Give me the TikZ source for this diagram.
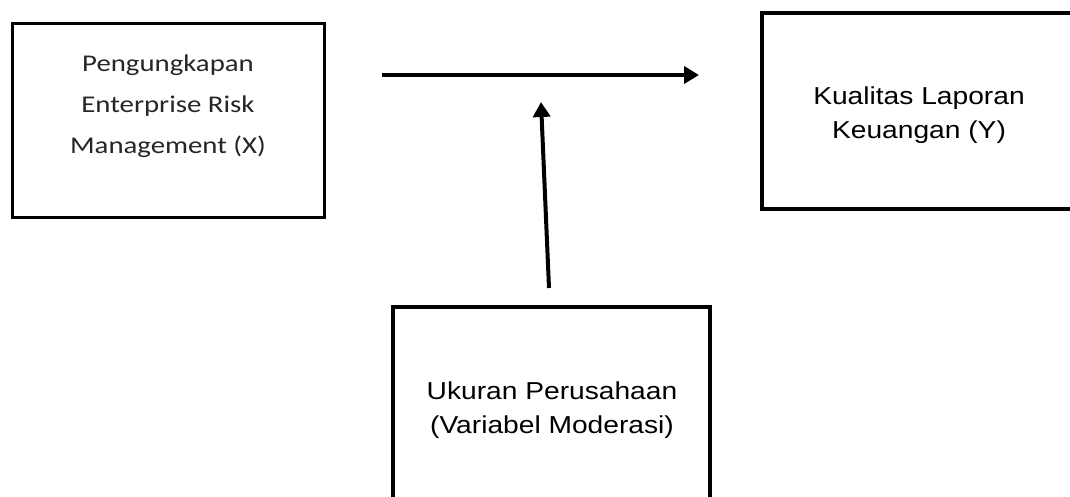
\documentclass[tikz,border=0pt]{standalone}
\usepackage{fontspec}
\setmainfont{Liberation Sans}[FakeStretch=1.15]
\newfontfamily\calib{Carlito}[FakeStretch=1.2]
\usetikzlibrary{arrows.meta,shadows}
\begin{document}
\begin{tikzpicture}[x=1pt,y=-1pt,
  box/.style={draw=black, fill=white, rectangle, inner sep=0pt},
  arialtext/.style={align=center, font=\fontsize{24.5}{34}\selectfont},
  calibtext/.style={align=center, font=\calib\fontsize{24}{41}\selectfont, text=black!85},
  conn/.style={line width=4pt, -{Triangle[length=15pt,width=17pt]}}
]
\useasboundingbox (0,0) rectangle (1070,496);
\clip (0,0) rectangle (1070,496);
\fill[white] (0,0) rectangle (1070,496);

% boxes
\node[box, line width=3pt, minimum width=312pt, minimum height=194pt,
      drop shadow={shadow xshift=2pt, shadow yshift=-2pt, opacity=0.3, fill=black!60}] (X) at (168,120) {};
\node[box, line width=4pt, minimum width=318pt, minimum height=196pt] (Y) at (921,111) {};
\node[box, line width=4pt, minimum width=317pt, minimum height=220pt] (M) at (551.5,417) {};

% texts
\node[calibtext] (Xt) at (168,106) {Pengungkapan\\Enterprise Risk\\Management (X)};
\node[arialtext] (Yt) at (919,115) {Kualitas Laporan\\Keuangan (Y)};
\node[arialtext] (Mt) at (552,410) {Ukuran Perusahaan\\(Variabel Moderasi)};

% connectors
\coordinate (hs) at (382,75);
\coordinate (he) at (699,75);
\coordinate (vs) at (549,288);
\coordinate (ve) at (541,102);
\draw[conn] (hs) -- (he);
\draw[conn] (vs) -- (ve);
\end{tikzpicture}
\end{document}
